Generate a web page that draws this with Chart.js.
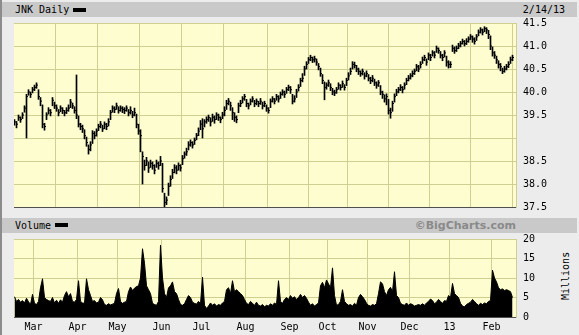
<!DOCTYPE html>
<html lang="en">
<head>
<meta charset="UTF-8">
<title>JNK Daily</title>
<script src="https://cdn.jsdelivr.net/npm/chart.js@4.4.0/dist/chart.umd.min.js"></script>
<style>
  * { box-sizing: border-box; margin: 0; padding: 0; }
  body { width: 579px; height: 335px; background: #ececec; position: relative; overflow: hidden;
         font-family: 'DejaVu Sans Mono', monospace; font-size: 10px; color: #000; }
  .edge { position: absolute; left: 0; top: 0; width: 2px; height: 335px; background: #8c8c8c; }
  .band { position: absolute; left: 2px; width: 575px; height: 15px; background: #c9c9c9; line-height: 15px; }
  .band .name { position: absolute; left: 13px; top: 0; }
  .band .key { position: absolute; width: 13px; height: 4px; background: #000; }
  .band .date { position: absolute; right: 12px; top: 0; }
  .band .credit { position: absolute; right: 61px; top: 0; font-family: 'DejaVu Sans', sans-serif; font-weight: bold;
                  font-size: 11px; color: #8a8a8a; }
  .millions { position: absolute; left: 542px; top: 270px; width: 48px; text-align: center; line-height: 12px;
              transform: rotate(-90deg); }
  canvas { position: absolute; left: 0; }
</style>
</head>
<body>
  <div class="edge"></div>
  <div class="band" style="top:2px"><span class="name">JNK Daily</span><span class="key" style="left:71px;top:6px"></span><span class="date">2/14/13</span></div>
  <div class="band" style="top:218px"><span class="name">Volume</span><span class="key" style="left:53px;top:5px"></span><span class="credit">©BigCharts.com</span></div>
  <div class="millions">Millions</div>
  <canvas id="price" width="579" height="215" style="top:0"></canvas>
  <canvas id="volume" width="579" height="102" style="top:233px"></canvas>

<script>
// daily bars, 2/15/12 .. 2/14/13 (index = trading day)
const highs = [
  39.40,39.36,39.50,39.46,39.55,39.70,39.95,40.05,40.00,40.10,
  40.15,40.20,40.05,39.88,39.72,39.32,39.55,39.66,39.62,39.88,
  39.78,39.72,39.62,39.70,39.66,39.60,39.66,39.72,39.84,39.76,
  39.68,40.37,39.48,39.32,39.28,39.18,39.02,38.85,38.92,39.16,
  39.14,39.20,39.30,39.36,39.28,39.35,39.32,39.42,39.60,39.70,
  39.68,39.76,39.68,39.70,39.68,39.66,39.70,39.62,39.68,39.58,
  39.65,39.52,39.30,39.18,38.70,38.52,38.58,38.48,38.52,38.48,
  38.42,38.52,38.48,38.60,38.45,37.80,37.72,38.02,38.18,38.32,
  38.42,38.40,38.46,38.42,38.62,38.70,38.78,38.92,38.96,38.92,
  39.00,39.10,39.22,39.38,39.42,39.40,39.46,39.50,39.44,39.52,
  39.48,39.55,39.52,39.46,39.56,39.68,39.82,39.86,39.78,39.66,
  39.55,39.48,39.76,39.82,39.90,39.95,39.84,39.76,39.85,39.90,
  39.82,39.85,39.80,39.86,39.78,39.80,39.72,39.66,39.85,39.90,
  39.86,39.95,39.92,40.00,40.05,40.02,40.10,40.15,40.12,39.95,
  39.92,40.06,40.16,40.30,40.40,40.56,40.66,40.75,40.80,40.76,
  40.78,40.72,40.62,40.52,40.38,40.22,40.20,40.26,40.18,40.08,
  40.04,40.10,40.20,40.16,40.24,40.16,40.30,40.42,40.52,40.66,
  40.65,40.58,40.52,40.46,40.50,40.42,40.46,40.38,40.32,40.36,
  40.28,40.22,40.25,40.14,40.02,39.94,39.96,39.84,39.65,39.80,
  39.96,40.06,40.10,40.16,40.12,40.20,40.30,40.36,40.40,40.46,
  40.50,40.60,40.58,40.66,40.76,40.80,40.72,40.85,40.82,40.90,
  40.88,41.00,40.96,40.88,40.82,40.90,40.78,40.68,40.66,41.02,
  40.98,41.00,41.06,41.10,41.15,41.12,41.16,41.20,41.25,41.22,
  41.18,41.25,41.35,41.40,41.37,41.42,41.40,41.34,41.22,40.98,
  40.88,40.78,40.68,40.62,40.52,40.56,40.60,40.66,40.76,40.80
];
const lows = [
  39.28,39.22,39.38,39.34,39.42,39.56,39.00,39.93,39.88,39.98,
  40.03,40.08,39.84,39.70,39.22,39.17,39.40,39.52,39.48,39.70,
  39.64,39.58,39.48,39.57,39.53,39.48,39.53,39.58,39.66,39.64,
  39.54,39.42,39.24,39.18,39.12,38.98,38.82,38.65,38.72,38.88,
  38.98,39.04,39.16,39.22,39.14,39.20,39.18,39.26,39.40,39.56,
  39.55,39.62,39.54,39.58,39.55,39.53,39.58,39.48,39.52,39.44,
  39.48,39.22,39.08,38.70,38.00,38.30,38.40,38.25,38.36,38.32,
  38.22,38.36,38.32,38.40,37.82,37.50,37.55,37.75,37.95,38.12,
  38.24,38.22,38.30,38.28,38.42,38.56,38.62,38.74,38.82,38.78,
  38.86,38.96,39.05,39.18,39.00,39.24,39.32,39.36,39.26,39.36,
  39.32,39.40,39.38,39.33,39.42,39.48,39.62,39.72,39.60,39.40,
  39.36,39.33,39.55,39.68,39.76,39.82,39.68,39.63,39.72,39.78,
  39.68,39.72,39.68,39.73,39.63,39.68,39.58,39.54,39.66,39.78,
  39.74,39.82,39.78,39.86,39.93,39.88,39.97,40.03,39.97,39.74,
  39.78,39.88,40.02,40.12,40.22,40.36,40.50,40.62,40.68,40.64,
  40.65,40.58,40.48,40.34,40.18,39.83,40.06,40.12,40.03,39.94,
  39.92,39.97,40.06,40.04,40.10,40.04,40.14,40.26,40.38,40.50,
  40.52,40.44,40.38,40.34,40.37,40.28,40.33,40.24,40.18,40.22,
  40.14,40.08,40.12,39.94,39.86,39.78,39.72,39.52,39.43,39.58,
  39.78,39.92,39.98,40.03,39.98,40.06,40.16,40.24,40.28,40.33,
  40.38,40.46,40.44,40.52,40.62,40.68,40.58,40.70,40.68,40.78,
  40.74,40.86,40.84,40.74,40.68,40.76,40.56,40.52,40.53,40.88,
  40.84,40.88,40.94,40.98,41.04,41.00,41.03,41.08,41.14,41.08,
  41.04,41.12,41.22,41.28,41.24,41.31,41.27,41.16,40.92,40.78,
  40.73,40.62,40.52,40.46,40.40,40.43,40.48,40.53,40.62,40.68
];
const closes = [
  39.35,39.30,39.45,39.40,39.50,39.65,39.90,40.00,39.95,40.05,
  40.10,40.15,39.90,39.80,39.30,39.25,39.50,39.60,39.55,39.82,
  39.70,39.65,39.55,39.65,39.60,39.55,39.60,39.65,39.78,39.70,
  39.60,39.50,39.30,39.25,39.20,39.05,38.90,38.75,38.85,39.10,
  39.05,39.15,39.25,39.30,39.20,39.30,39.25,39.35,39.55,39.65,
  39.62,39.70,39.60,39.65,39.62,39.60,39.65,39.55,39.60,39.50,
  39.55,39.30,39.15,39.05,38.60,38.40,38.50,38.35,38.45,38.40,
  38.30,38.45,38.40,38.50,37.90,37.60,37.65,37.95,38.10,38.25,
  38.35,38.30,38.40,38.35,38.55,38.65,38.70,38.85,38.90,38.85,
  38.95,39.05,39.15,39.30,39.20,39.35,39.40,39.45,39.35,39.45,
  39.40,39.50,39.45,39.40,39.50,39.60,39.75,39.80,39.70,39.55,
  39.45,39.40,39.70,39.75,39.85,39.90,39.75,39.70,39.80,39.85,
  39.75,39.80,39.75,39.80,39.70,39.75,39.65,39.60,39.80,39.85,
  39.80,39.90,39.85,39.95,40.00,39.95,40.05,40.10,40.05,39.80,
  39.85,40.00,40.10,40.25,40.30,40.50,40.60,40.70,40.75,40.70,
  40.72,40.65,40.55,40.40,40.25,40.10,40.15,40.20,40.10,40.00,
  39.98,40.05,40.15,40.10,40.18,40.10,40.25,40.35,40.45,40.60,
  40.58,40.50,40.45,40.40,40.45,40.35,40.40,40.30,40.25,40.30,
  40.20,40.15,40.20,40.00,39.95,39.85,39.90,39.60,39.55,39.75,
  39.90,40.00,40.05,40.10,40.05,40.15,40.25,40.30,40.35,40.40,
  40.45,40.55,40.50,40.60,40.70,40.75,40.65,40.80,40.75,40.85,
  40.80,40.95,40.90,40.80,40.75,40.85,40.65,40.60,40.60,40.95,
  40.90,40.95,41.00,41.05,41.10,41.05,41.10,41.15,41.20,41.15,
  41.10,41.20,41.30,41.35,41.30,41.38,41.35,41.25,41.00,40.85,
  40.80,40.70,40.60,40.55,40.45,40.50,40.55,40.60,40.70,40.75
];
// volume, millions of shares
const volumes = [
  5.2,4.0,4.5,3.8,4.2,3.6,4.8,3.9,3.2,5.8,
  3.5,3.2,4.0,7.5,9.8,5.0,4.5,4.2,4.0,5.0,
  3.6,4.3,3.5,4.4,3.8,5.5,6.5,5.2,6.0,4.0,
  3.8,4.5,9.3,4.0,3.6,3.5,9.8,7.0,5.5,4.0,
  4.2,3.6,3.8,5.0,4.4,3.2,3.0,3.4,3.1,3.3,
  3.5,6.0,7.3,4.0,3.5,3.8,4.0,6.5,7.7,6.8,
  7.4,7.8,8.0,10.0,17.5,13.8,8.0,7.0,6.0,3.5,
  3.2,3.0,4.0,18.4,10.0,6.0,5.0,7.5,8.0,9.0,
  6.5,6.0,4.5,3.2,3.0,3.4,4.5,5.5,5.0,3.8,
  3.5,3.3,4.0,3.4,10.2,3.0,2.2,2.8,3.6,3.0,
  3.4,2.8,3.2,3.0,3.6,4.0,7.0,7.5,6.0,9.3,
  6.5,7.0,6.5,6.0,5.5,4.5,3.5,3.2,4.0,3.5,
  3.0,3.8,3.0,2.8,3.2,2.6,3.0,2.8,3.4,3.0,
  3.6,3.2,9.3,4.0,3.5,4.5,5.0,4.5,5.5,4.8,
  5.2,4.5,5.0,5.8,5.0,5.5,4.8,3.8,3.0,3.4,
  2.8,3.2,3.6,8.0,8.9,7.5,9.5,8.5,7.5,12.6,
  5.5,3.0,3.2,4.0,7.0,4.0,3.4,3.0,3.2,2.8,
  3.5,3.0,5.0,5.8,5.2,4.5,3.5,3.0,2.8,3.2,
  3.0,3.4,6.0,9.0,8.5,6.5,5.5,7.0,7.6,6.5,
  11.6,5.5,5.0,3.5,3.2,3.0,3.6,3.0,3.4,3.2,
  2.8,3.0,3.2,3.0,3.4,3.0,3.6,4.0,4.6,4.2,
  3.4,3.8,4.5,4.0,3.5,4.2,4.0,5.5,5.0,8.6,
  6.0,5.5,5.0,3.5,2.8,2.6,3.2,3.5,3.8,4.5,
  4.0,3.4,3.0,3.5,3.2,3.6,3.4,4.0,4.2,12.0,
  10.0,9.0,7.5,7.0,7.2,6.8,7.0,6.8,6.5,5.0
];
// month boundaries (between trading days) and their labels
const monthGrid = [9.5, 31.5, 51.5, 73.5, 93.5, 115.5, 137.5, 156.5, 176.5, 197.5, 217.5, 238.5];
const monthLabels = ['Mar', 'Apr', 'May', 'Jun', 'Jul', 'Aug', 'Sep', 'Oct', 'Nov', 'Dec', '13', 'Feb'];
const priceTicks = [37.5, 38.0, 38.5, 39.0, 39.5, 40.0, 40.5, 41.0, 41.5];
const priceTickLabels = ['37.5', '38.0', '38.5', '', '39.5', '40.0', '40.5', '41.0', '41.5'];
const volumeTicks = [0, 5, 10, 15, 20];

const GRID = '#cfcf92';
const PLOT_BG = '#fdfdd0';
const FONT = { family: "'DejaVu Sans Mono', monospace", size: 10 };

const plotBg = {
  id: 'plotBg',
  beforeDraw(chart) {
    const { ctx, chartArea: a } = chart;
    ctx.save();
    ctx.fillStyle = PLOT_BG;
    ctx.fillRect(a.left, a.top, a.right - a.left, a.bottom - a.top);
    ctx.restore();
  }
};

Chart.defaults.animation = false;
Chart.defaults.font = FONT;
Chart.defaults.color = '#000';

// 251 slots over 502px -> 2px per day, bars land on pixel centres
const xAxis = (showLabels) => ({
  type: 'linear',
  min: -0.25,
  max: 250.75,
  offset: false,
  afterBuildTicks: s => { s.ticks = monthGrid.map(v => ({ value: v })); },
  afterFit: s => { s.height = showLabels ? 18 : 0; },
  grid: { color: GRID, drawTicks: false },
  border: { display: true, color: '#505050' },
  ticks: { display: showLabels, autoSkip: false, maxRotation: 0, padding: 4, callback: (v, i) => monthLabels[i] }
});

const yGrid = { color: GRID, drawTicks: true, tickLength: 7, tickColor: 'rgba(0,0,0,0)' };

new Chart(document.getElementById('price'), {
  type: 'bar',
  data: {
    datasets: [
      {
        type: 'bar',
        data: highs.map((h, i) => ({ x: i, y: [lows[i], h] })),
        backgroundColor: '#000',
        borderWidth: 0,
        barThickness: 1
      },
      {
        type: 'line',
        data: closes.map((c, i) => ({ x: i + 0.5, y: c })),
        showLine: false,
        pointStyle: 'line',
        pointRadius: 0.5,
        pointBorderWidth: 1,
        pointBorderColor: '#000'
      }
    ]
  },
  options: {
    responsive: false,
    devicePixelRatio: 1,
    layout: { autoPadding: false, padding: { left: 14, top: 23, right: 0, bottom: 8 } },
    plugins: { legend: { display: false }, tooltip: { enabled: false } },
    scales: {
      x: xAxis(false),
      y: {
        position: 'right',
        min: 37.5,
        max: 41.5,
        afterBuildTicks: s => { s.ticks = priceTicks.map(v => ({ value: v })); },
        afterFit: s => { s.width = 63; },
        grid: yGrid,
        border: { display: true, color: GRID },
        ticks: { padding: 0, callback: (v, i) => priceTickLabels[i] }
      }
    }
  },
  plugins: [plotBg]
});

new Chart(document.getElementById('volume'), {
  type: 'line',
  data: {
    datasets: [{
      data: volumes.map((v, i) => ({ x: i, y: v })),
      borderColor: '#000',
      borderWidth: 1,
      backgroundColor: '#000',
      fill: 'origin',
      pointRadius: 0,
      tension: 0
    }]
  },
  options: {
    responsive: false,
    devicePixelRatio: 1,
    layout: { autoPadding: false, padding: { left: 14, top: 6, right: 0, bottom: 0 } },
    plugins: { legend: { display: false }, tooltip: { enabled: false } },
    scales: {
      x: xAxis(true),
      y: {
        position: 'right',
        min: 0,
        max: 20,
        afterBuildTicks: s => { s.ticks = volumeTicks.map(v => ({ value: v })); },
        afterFit: s => { s.width = 63; },
        grid: yGrid,
        border: { display: true, color: GRID },
        ticks: { padding: 0 }
      }
    }
  },
  plugins: [plotBg]
});
</script>
</body>
</html>
